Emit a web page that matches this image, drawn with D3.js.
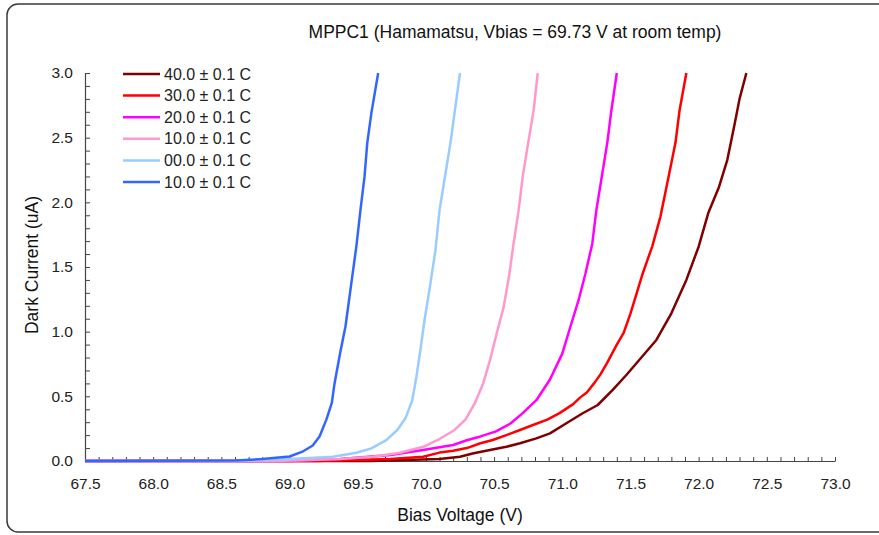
<!DOCTYPE html>
<html>
<head>
<meta charset="utf-8">
<script src="https://cdn.jsdelivr.net/npm/d3@7"></script>
<style>
  html, body { margin: 0; padding: 0; background: #fff; }
  svg { display: block; font-family: "Liberation Sans", Arial, sans-serif; }
</style>
</head>
<body>
<svg id="chart" width="879" height="535"></svg>
<script>
// ---- Data ----
const seriesNames = ["40.0 ± 0.1 C", "30.0 ± 0.1 C", "20.0 ± 0.1 C", "10.0 ± 0.1 C", "00.0 ± 0.1 C", "10.0 ± 0.1 C"];
const seriesColors = ["#800000", "#ff0000", "#ff00ff", "#ff99cc", "#99ccff", "#3366ff"];

const v40 = [67.5, 69.6, 70.1, 70.25, 70.35, 70.47, 70.59, 70.69, 70.81, 70.91, 71.03, 71.15, 71.26, 71.37, 71.47, 71.58, 71.69, 71.8, 71.91, 72.0, 72.07, 72.15, 72.21, 72.26, 72.3, 72.35];
const i40 = [0, 0, 0.015, 0.033, 0.06, 0.085, 0.11, 0.137, 0.175, 0.214, 0.292, 0.369, 0.433, 0.55, 0.665, 0.80, 0.936, 1.142, 1.40, 1.657, 1.915, 2.121, 2.327, 2.585, 2.8, 3.0];

const v30 = [67.5, 69.2, 69.74, 69.98, 70.1, 70.2, 70.3, 70.4, 70.49, 70.59, 70.69, 70.79, 70.89, 70.98, 71.08, 71.13, 71.18, 71.24, 71.28, 71.33, 71.4, 71.45, 71.5, 71.59, 71.66, 71.72, 71.78, 71.83, 71.86, 71.91];
const i30 = [0, 0, 0.015, 0.033, 0.065, 0.08, 0.10, 0.137, 0.162, 0.20, 0.24, 0.28, 0.32, 0.37, 0.44, 0.49, 0.53, 0.61, 0.67, 0.76, 0.90, 0.99, 1.14, 1.45, 1.66, 1.89, 2.2, 2.46, 2.71, 3.0];

const v20 = [67.5, 69.0, 69.37, 69.74, 69.98, 70.1, 70.2, 70.3, 70.4, 70.51, 70.62, 70.71, 70.81, 70.91, 71.0, 71.06, 71.12, 71.17, 71.22, 71.25, 71.29, 71.33, 71.36, 71.4];
const i20 = [0, 0, 0.015, 0.046, 0.085, 0.106, 0.124, 0.16, 0.19, 0.227, 0.29, 0.37, 0.47, 0.63, 0.83, 1.04, 1.245, 1.45, 1.68, 1.94, 2.2, 2.46, 2.71, 3.0];

const v10 = [67.5, 68.9, 69.37, 69.61, 69.81, 69.98, 70.1, 70.21, 70.29, 70.36, 70.42, 70.47, 70.52, 70.57, 70.61, 70.64, 70.68, 70.71, 70.75, 70.79, 70.82];
const i10 = [0, 0, 0.015, 0.033, 0.064, 0.11, 0.17, 0.24, 0.32, 0.45, 0.60, 0.78, 0.99, 1.19, 1.43, 1.66, 1.94, 2.20, 2.46, 2.71, 3.0];

const v00 = [67.5, 68.6, 69.0, 69.32, 69.49, 69.6, 69.71, 69.79, 69.85, 69.9, 69.93, 69.96, 69.99, 70.03, 70.07, 70.1, 70.14, 70.18, 70.22, 70.25];
const i00 = [0, 0, 0.015, 0.033, 0.064, 0.098, 0.162, 0.24, 0.33, 0.47, 0.65, 0.86, 1.09, 1.35, 1.63, 1.94, 2.20, 2.46, 2.77, 3.0];

const vm10 = [67.5, 68.6, 68.8, 68.9, 69.0, 69.1, 69.17, 69.22, 69.27, 69.31, 69.33, 69.37, 69.41, 69.45, 69.49, 69.52, 69.55, 69.57, 69.6, 69.65];
const im10 = [0, 0.003, 0.015, 0.025, 0.035, 0.075, 0.12, 0.19, 0.32, 0.45, 0.60, 0.83, 1.04, 1.35, 1.66, 1.94, 2.20, 2.46, 2.69, 3.0];

const xTicks = [67.5, 68.0, 68.5, 69.0, 69.5, 70.0, 70.5, 71.0, 71.5, 72.0, 72.5, 73.0];
const yTicks = [0.0, 0.5, 1.0, 1.5, 2.0, 2.5, 3.0];

const titleText = "MPPC1 (Hamamatsu, Vbias = 69.73 V at room temp)";
const xTitle = "Bias Voltage (V)";
const yTitle = "Dark Current (uA)";

// ---- Layout ----
const svg = d3.select("#chart");
const plot = { left: 85, right: 835, top: 73, bottom: 461 };

const x = d3.scaleLinear().domain([67.5, 73.0]).range([plot.left, plot.right]);
const y = d3.scaleLinear().domain([0, 3.0]).range([plot.bottom, plot.top]);

// Frame
svg.append("rect")
  .attr("x", 7).attr("y", 4).attr("width", 900).attr("height", 528)
  .attr("rx", 11).attr("ry", 11)
  .attr("fill", "#fff").attr("stroke", "#3a3a3a").attr("stroke-width", 1.5);

// Title
svg.append("text")
  .attr("x", 515).attr("y", 38)
  .attr("text-anchor", "middle")
  .attr("font-size", 17.5)
  .attr("fill", "#111")
  .text(titleText);

// Minor ticks
const xMinor = d3.range(0, 56).map(k => 67.5 + k * 0.1);
const yMinor = d3.range(0, 31).map(k => k * 0.1);

const axisColor = "#444";
const tickFont = 15.5;

// X axis
const gx = svg.append("g").attr("transform", `translate(0,${plot.bottom})`);
gx.call(d3.axisBottom(x).tickValues(xMinor).tickSize(-4).tickFormat(""));
gx.select(".domain").remove();
const gx2 = svg.append("g").attr("transform", `translate(0,${plot.bottom})`);
gx2.call(d3.axisBottom(x).tickValues(xTicks).tickSize(0).tickPadding(17).tickFormat(d3.format(".1f")));
gx.selectAll("line").attr("stroke", axisColor);
gx2.select(".domain").attr("stroke", axisColor).attr("stroke-width", 1.2);
gx2.selectAll("text").attr("font-size", tickFont).attr("fill", "#222").attr("font-family", "Liberation Sans, Arial, sans-serif");

// Y axis
const gy = svg.append("g").attr("transform", `translate(${plot.left},0)`);
gy.call(d3.axisLeft(y).tickValues(yMinor).tickSize(-5).tickFormat(""));
gy.select(".domain").remove();
const gy2 = svg.append("g").attr("transform", `translate(${plot.left},0)`);
gy2.call(d3.axisLeft(y).tickValues(yTicks).tickSize(0).tickPadding(12).tickFormat(d3.format(".1f")));
gy.selectAll("line").attr("stroke", axisColor);
gy2.select(".domain").attr("stroke", axisColor).attr("stroke-width", 1.2);
gy2.selectAll("text").attr("font-size", tickFont).attr("fill", "#222").attr("font-family", "Liberation Sans, Arial, sans-serif");

// Axis titles
svg.append("text")
  .attr("x", 460).attr("y", 521)
  .attr("text-anchor", "middle")
  .attr("font-size", 17.5).attr("fill", "#111")
  .text(xTitle);
svg.append("text")
  .attr("transform", `translate(38,265) rotate(-90)`)
  .attr("text-anchor", "middle")
  .attr("font-size", 17.5).attr("fill", "#111")
  .text(yTitle);

// Series lines
const seriesV = [v40, v30, v20, v10, v00, vm10];
const seriesI = [i40, i30, i20, i10, i00, im10];
const line = d3.line().x(d => x(d[0])).y(d => y(d[1]));

seriesV.forEach((vs, k) => {
  const pts = vs.map((v, j) => [v, seriesI[k][j]]);
  svg.append("path")
    .datum(pts)
    .attr("d", line)
    .attr("fill", "none")
    .attr("stroke", seriesColors[k])
    .attr("stroke-width", 2.5)
    .attr("stroke-linejoin", "round");
});

// Legend
const legend = svg.append("g").attr("transform", "translate(123,74)");
seriesNames.forEach((name, k) => {
  const g = legend.append("g").attr("transform", `translate(0,${k * 21.6})`);
  g.append("line").attr("x1", 0).attr("x2", 37).attr("y1", 0).attr("y2", 0)
    .attr("stroke", seriesColors[k]).attr("stroke-width", 2.5);
  g.append("text").attr("x", 41).attr("y", 5.5)
    .attr("font-size", 16).attr("fill", "#222")
    .text(name);
});
</script>
</body>
</html>
